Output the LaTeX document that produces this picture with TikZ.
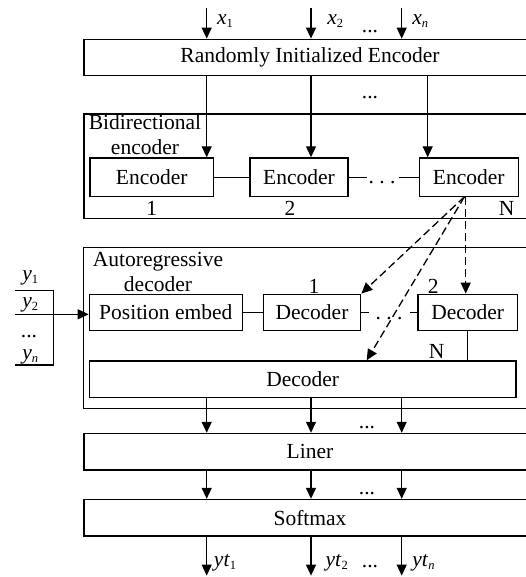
\documentclass[tikz,border=0pt]{standalone}
\usepackage{fontspec}
\setmainfont{Liberation Serif}
\usetikzlibrary{arrows.meta}

\newcommand{\lowidx}[1]{\raisebox{-3pt}{\fontsize{12.5pt}{14pt}\selectfont #1}}

\begin{document}
\begin{tikzpicture}[font=\fontsize{21.5pt}{25pt}\selectfont, line width=1.3pt,
		blk/.style={draw,inner sep=0pt,minimum height=36.5pt},
		arr/.style={-{Triangle[length=11pt,width=10pt]}},
		dsh/.style={dash pattern=on 8pt off 4pt},
		lbl/.style={inner sep=0pt}]
			\begin{scope}[x={1pt},y={-1pt}]
				\clip (0,0) rectangle (526,577); % page

				\coordinate (cA) at (206.7,0); % column 1
				\coordinate (cB) at (311,0); % column 2
				\coordinate (cC) at (401.7,0); % column n
				\coordinate (cD) at (427.7,0); % column to encoder N
				\coordinate (cE) at (366.7,0); % dashed to big decoder
				\coordinate (cF) at (465.7,0); % dashed to decoder 2

				\node[blk,minimum width=452pt] (rand) at (310,57.5) {Randomly Initialized Encoder};

				\node[blk,minimum width=452pt,minimum height=104.5pt] (bienc) at (310,166.2) {}; % bidirectional box
				\node[lbl,align=center] (bititle) at (145,134.2) {Bidirectional\\encoder};
				\node[blk,minimum width=123.3pt,minimum height=38.7pt] (enc1) at (151.7,177.3) {Encoder};
				\node[blk,minimum width=98pt,minimum height=38.7pt] (enc2) at (299,177.3) {Encoder};
				\node[blk,minimum width=99pt,minimum height=38.7pt] (enc3) at (468.8,177.3) {Encoder};
				\node[lbl] (enc1n) at (151.7,208.3) {1};
				\node[lbl] (enc2n) at (290,208.3) {2};
				\node[lbl] (enc3n) at (506.7,208.5) {N};

				\node[blk,minimum width=452.7pt,minimum height=160.6pt] (autodec) at (309.7,328) {}; % autoregressive box
				\node[lbl,align=center] (autotitle) at (158,271.5) {Autoregressive\\decoder};
				\node[blk,minimum width=153pt] (posemb) at (165.8,312.5) {Position embed};
				\node[blk,minimum width=97.4pt] (dec1) at (312,312.5) {Decoder};
				\node[blk,minimum width=99.5pt] (dec2) at (467.7,312.5) {Decoder};
				\node[blk,minimum width=426.7pt] (bigdec) at (302.7,379.2) {Decoder};
				\node[lbl] (dec1n) at (314,286.7) {1};
				\node[lbl] (dec2n) at (433.3,286.7) {2};
				\node[lbl] (dec3n) at (436.7,351.7) {N};

				\node[blk,minimum width=452pt] (liner) at (310,451.7) {Liner};
				\node[blk,minimum width=452pt] (softmax) at (310,517.7) {Softmax};

				% inputs x
				\coordinate (xin1) at (206.7,8);
				\coordinate (xin2) at (311,8);
				\coordinate (xinn) at (401.7,8);
				\draw[arr] (xin1) -- (xin1 |- rand.north);
				\draw[arr] (xin2) -- (xin2 |- rand.north);
				\draw[arr] (xinn) -- (xinn |- rand.north);
				\node[lbl,anchor=base west] (lx1) at (216.5,25) {\textit{x}\lowidx{1}};
				\node[lbl,anchor=base west] (lx2) at (326.7,25) {\textit{x}\lowidx{2}};
				\node[lbl,anchor=base west] (lxn) at (411.7,25) {\textit{x}\lowidx{\textit{n}}};
				\node[lbl,anchor=base] (xdots) at (370,33) {...};

				% encoder inputs
				\draw[arr] (rand.south -| cA) -- (enc1.north -| cA);
				\draw[arr] (rand.south -| cB) -- (enc2.north -| cB);
				\draw[arr] (rand.south -| cD) -- (enc3.north -| cD);
				\node[lbl,anchor=base] (rdots) at (370,99) {...};

				% encoder chain
				\draw (enc1) -- (enc2);
				\draw (enc2.east) -- ++(18.7,0);
				\draw (enc3.west) -- ++(-19.3,0);
				\node[lbl,anchor=base] (edots) at (382,183) {.\ .\ .};

				% inputs y
				\coordinate (ytop) at (15,290.7);
				\coordinate (ymid) at (15,314.3);
				\coordinate (ybot) at (15,365);
				\draw (ytop) -- (53.3,290.7) -- (53.3,365) -- (ybot);
				\draw[arr] (ymid) -- (ymid -| posemb.west);
				\node[lbl,anchor=base west] (ly1) at (21.7,280) {\textit{y}\lowidx{1}};
				\node[lbl,anchor=base west] (ly2) at (21.7,307.5) {\textit{y}\lowidx{2}};
				\node[lbl,anchor=base] (ydots) at (29,337.5) {...};
				\node[lbl,anchor=base west] (lyn) at (21.7,359) {\textit{y}\lowidx{\textit{n}}};

				% decoder chain
				\draw (posemb) -- (dec1);
				\draw (dec1.east) -- ++(7.5,0);
				\draw (dec2.west) -- ++(-7,0);
				\node[lbl,anchor=base] (ddots) at (389,319) {.\ .\ .};
				\draw (dec2.south) -- (dec2.south |- bigdec.north);

				% encoder N to decoders
				\coordinate (dsrc) at (464.5,196.7);
				\draw[arr,dsh] (dsrc) -- (dec1.north east);
				\draw[arr,dsh] (dsrc) -- (bigdec.north -| cE);
				\draw[arr,dsh] (enc3.south -| cF) -- (dec2.north -| cF);

				% decoder to liner to softmax
				\draw[arr] (bigdec.south -| cA) -- (liner.north -| cA);
				\draw[arr] (bigdec.south -| cB) -- (liner.north -| cB);
				\draw[arr] (bigdec.south -| cC) -- (liner.north -| cC);
				\node[lbl,anchor=base] (ldots) at (367,428) {...};
				\draw[arr] (liner.south -| cA) -- (softmax.north -| cA);
				\draw[arr] (liner.south -| cB) -- (softmax.north -| cB);
				\draw[arr] (liner.south -| cC) -- (softmax.north -| cC);
				\node[lbl,anchor=base] (sdots) at (367,494.5) {...};

				% outputs
				\draw[arr] (softmax.south -| cA) -- ++(0,39);
				\draw[arr] (softmax.south -| cB) -- ++(0,39);
				\draw[arr] (softmax.south -| cC) -- ++(0,39);
				\node[lbl,anchor=base west] (lyt1) at (213.3,566) {\textit{yt}\lowidx{1}};
				\node[lbl,anchor=base west] (lyt2) at (325,566) {\textit{yt}\lowidx{2}};
				\node[lbl,anchor=base west] (lytn) at (411.7,566) {\textit{yt}\lowidx{\textit{n}}};
				\node[lbl,anchor=base] (ytdots) at (370,567) {...};
			\end{scope}
		\end{tikzpicture}
\end{document}
